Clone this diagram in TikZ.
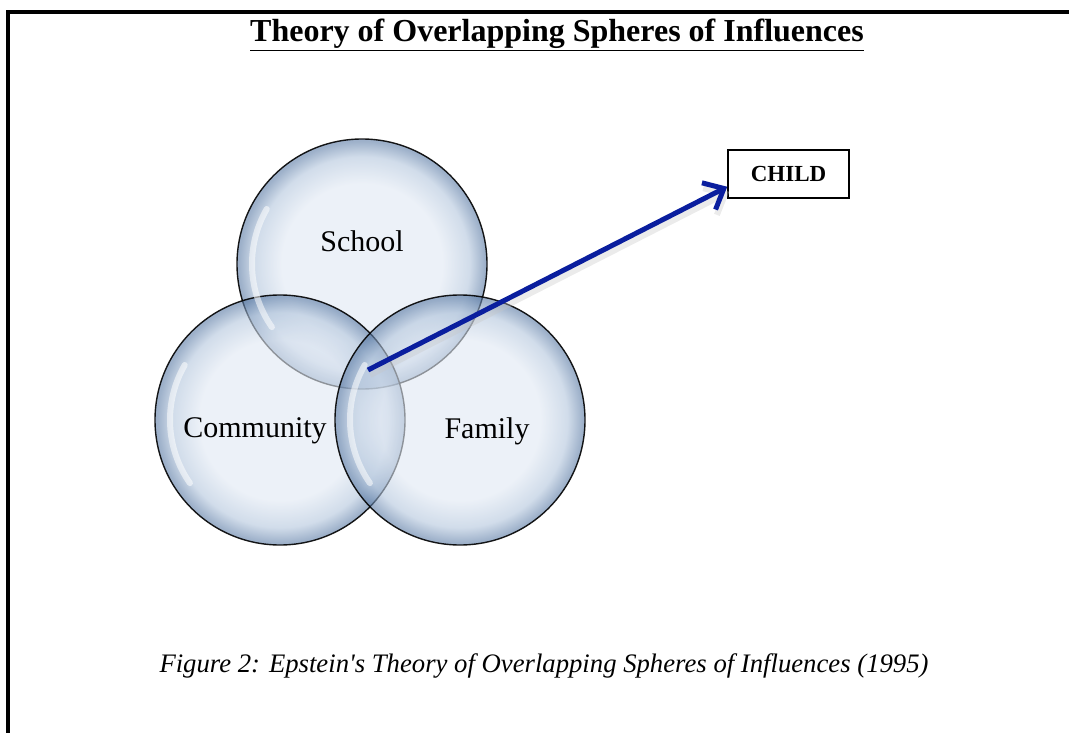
\documentclass[tikz,border=0pt]{standalone}
\usepackage{fontspec}
\setmainfont{Liberation Serif}
\usepackage{tikz}
\usetikzlibrary{positioning,arrows.meta}

\definecolor{bubblein}{RGB}{224,232,243}
\definecolor{bubblemid}{RGB}{178,197,220}
\definecolor{bubbleout}{RGB}{92,124,166}
\definecolor{arrowblue}{RGB}{10,30,158}

\pgfdeclareradialshading{bubble}{\pgfpoint{0bp}{0bp}}{%
  color(0bp)=(bubblein); color(16bp)=(bubblein); color(21.5bp)=(bubblemid);
  color(24.6bp)=(bubbleout); color(25bp)=(bubbleout); color(50bp)=(bubbleout)}

\tikzset{
  sphere/.style={circle, minimum size=250pt, inner sep=0pt, draw=black, line width=1.4pt,
    shading=bubble, fill opacity=0.6, draw opacity=0.9, text opacity=1},
  shine/.style={white, line width=6pt, line cap=round, opacity=0.55}
}

\begin{document}
\begin{tikzpicture}[x=1pt,y=-1pt]
  \useasboundingbox (0,0) rectangle (1069,733);

  %frame
  \draw[line width=4pt] (8,733) -- (8,12) -- (1069,12);

  \node (title) at (557,35) {\fontsize{32}{32}\selectfont\bfseries\underline{Theory of Overlapping Spheres of Influences}};

  %spheres
  \node[sphere] (school) at (362,264) {};
  \node[sphere] (community) at (280,420) {};
  \node[sphere] (family) at (460,420) {};
  \draw[shine] ([shift={(150:110pt)}]school.center) arc[start angle=150, end angle=215, radius=110pt];
  \draw[shine] ([shift={(150:110pt)}]community.center) arc[start angle=150, end angle=215, radius=110pt];
  \draw[shine] ([shift={(150:110pt)}]family.center) arc[start angle=150, end angle=215, radius=110pt];

  \node[font=\fontsize{30}{30}\selectfont] (schooltext) at (362,241) {School};
  \node[font=\fontsize{30}{30}\selectfont] (communitytext) at (255,431) {Community};
  \node[font=\fontsize{30}{30}\selectfont] (familytext) at (487,431) {Family};

  %child
  \node[draw, line width=1.5pt, minimum width=121pt, minimum height=48pt, font=\fontsize{23}{23}\selectfont\bfseries] (child) at (788.5,174) {CHILD};

  %core>child
  \coordinate (core) at (368,370);
  \draw[gray!45, line width=6pt, opacity=0.35, -{Straight Barb[length=17pt,width=30pt]}] ([xshift=2pt,yshift=-5pt]core) -- ([xshift=2pt,yshift=7pt]child.south west);
  \draw[arrowblue, line width=5pt, -{Straight Barb[length=17pt,width=30pt]}] (core) -- ([yshift=12pt]child.south west);

  \node (caption) at (544,666) {\fontsize{26.7}{26.7}\selectfont\itshape Figure 2: Epstein\textquotesingle s Theory of Overlapping Spheres of Influences (1995)};
\end{tikzpicture}
\end{document}
